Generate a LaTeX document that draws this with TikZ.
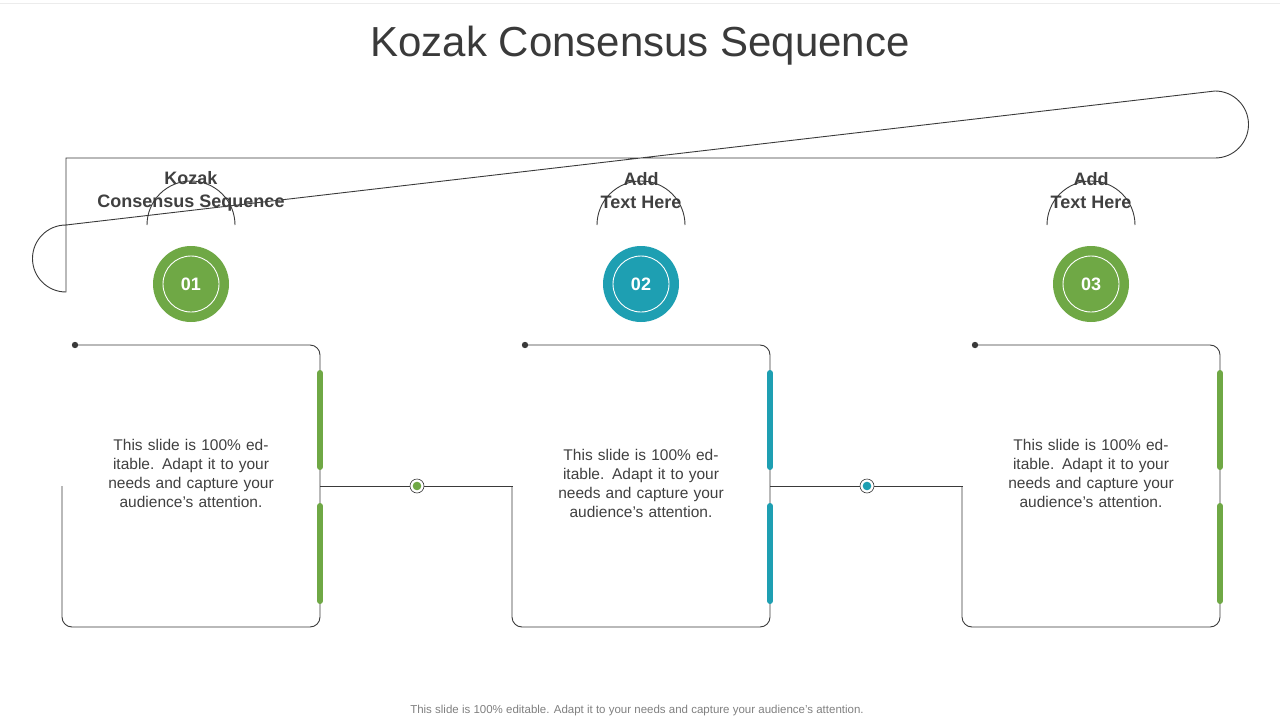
\documentclass[tikz,border=0pt]{standalone}
\usepackage{fontspec}
\setmainfont{Liberation Sans}
\definecolor{gr}{HTML}{6FA845}
\definecolor{tl}{HTML}{1E9FB2}
\definecolor{ln}{HTML}{3A3A3A}
\definecolor{tx}{HTML}{404040}
\tikzset{x=1pt,y=-1pt,
 lineS/.style={draw=ln,line width=0.9pt},
 bar/.style={line width=6pt,line cap=round},
 head/.style={font=\bfseries\fontsize{18}{23}\selectfont,text=tx,align=center},
 body/.style={font=\fontsize{15.5}{19}\selectfont,text=tx,align=center},
 numc/.style={circle,minimum size=76pt,inner sep=0pt,text=white,font=\bfseries\fontsize{18}{20}\selectfont},
}
\begin{document}
\begin{tikzpicture}
\useasboundingbox (0,0) rectangle (1280,720);
\draw[draw=gray!15,line width=1pt] (0,3) -- (1280,3);
\node[font=\fontsize{42}{48}\selectfont,text=ln] (title) at (640,46) {Kozak Consensus Sequence};
\draw[lineS] (66,158) -- (1215,158) arc (90:-90:33.5) -- (66,225) arc (270:90:33.5) -- cycle;
\foreach \i/\cx/\c/\n/\h/\ty in {1/191/gr/01/{Kozak\\Consensus Sequence}/444, 2/641/tl/02/{Add\\Text Here}/454, 3/1091/gr/03/{Add\\Text Here}/444}{
  \node[head] (h\i) at (\cx,191) {\h};
  \draw[lineS] (\cx-44,225) arc (180:360:44);
  \node[numc,fill=\c] (n\i) at (\cx,284) {\n};
  \draw[white,line width=0.9pt] (n\i.center) circle (28);
  \draw[lineS,rounded corners=10pt] (\cx-116,345) -- (\cx+129,345) -- (\cx+129,627) -- (\cx-129,627) -- (\cx-129,486);
  \fill[ln] (\cx-116,345) circle (3.2);
  \draw[bar,\c] (\cx+129,373) -- (\cx+129,467);
  \draw[bar,\c] (\cx+129,506) -- (\cx+129,601);
  \node[body,text width=170pt] (b\i) at (\cx,\ty+29) {This slide is 100\% editable. Adapt it to your needs and capture your audience's attention.};
}
\foreach \x/\c in {320/gr,770/tl}{
  \draw[lineS] (\x,486) -- (\x+193,486);
  \fill[white] (\x+97,486) circle (7);
  \draw[ln,line width=0.6pt] (\x+97,486) circle (7);
  \fill[\c] (\x+97,486) circle (4.3);
}
\node[font=\fontsize{11.5}{13}\selectfont,text=gray] (foot) at (637,711) {This slide is 100\% editable. Adapt it to your needs and capture your audience's attention.};
\end{tikzpicture}
\end{document}
